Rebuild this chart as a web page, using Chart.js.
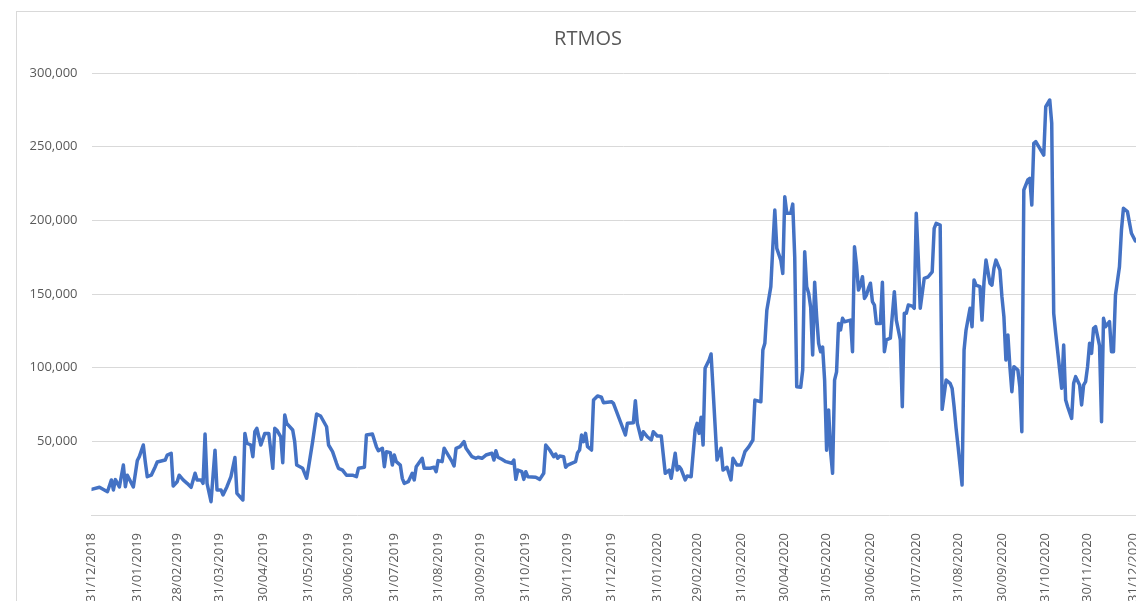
<!DOCTYPE html>
<html><head><meta charset="utf-8">
<script src="https://cdn.jsdelivr.net/npm/chart.js@4/dist/chart.umd.min.js"></script>
<style>
html,body{margin:0;padding:0;background:#fff;overflow:hidden;width:1136px;height:601px;}
#box{position:absolute;left:16px;top:11px;width:1142px;height:593px;border:1px solid #d9d9d9;background:#fff;}
canvas{display:block}
</style></head><body>
<div id="box"><canvas id="c" width="1142" height="593"></canvas></div>
<script>
const chartTitle = 'RTMOS';
const monthEndLabels = ['31/12/2018','31/01/2019','28/02/2019','31/03/2019','30/04/2019','31/05/2019','30/06/2019','31/07/2019','31/08/2019','30/09/2019','31/10/2019','30/11/2019','31/12/2019','31/01/2020','29/02/2020','31/03/2020','30/04/2020','31/05/2020','30/06/2020','31/07/2020','31/08/2020','30/09/2020','31/10/2020','30/11/2020','31/12/2020'];
// trading-session (weekday) number of each month-end label, counted from 31/12/2018
const monthEndSession = [0,23,43,64,86,109,129,152,174,195,218,239,261,284,304,326,348,369,391,414,435,457,479,500,523];
const yTickValues = [50000,100000,150000,200000,250000,300000];
// trading-session number of each reading
const session = [0,4,8,10,11,12,14,16,17,18,21,23,24,26,27,28,30,32,33,37,38,40,41,43,44,46,48,50,52,53,55,56,57,58,60,62,63,65,66,68,70,72,73,76,77,78,80,81,82,83,85,87,89,91,92,93,95,96,97,98,101,102,103,106,108,109,111,113,115,118,119,121,123,124,126,128,131,133,134,137,138,141,143,144,146,147,148,150,151,152,153,155,156,157,159,161,162,163,166,167,170,172,173,174,176,177,178,181,182,183,185,187,188,191,193,194,196,198,201,202,203,204,206,208,211,212,213,214,216,217,218,219,223,225,227,228,230,232,233,234,235,237,238,239,241,243,244,245,246,247,248,249,251,252,254,256,257,261,262,268,269,272,273,274,276,277,279,281,282,284,286,288,290,291,293,294,295,296,298,299,301,303,304,305,306,307,308,310,311,314,316,317,319,321,322,324,326,328,330,332,333,336,337,338,339,340,341,342,343,344,346,347,348,349,351,352,353,354,356,357,358,359,360,361,362,363,364,365,366,367,368,369,370,371,372,373,374,375,376,377,378,381,382,383,384,385,386,387,388,389,390,391,392,393,394,396,397,398,399,401,403,404,406,407,408,409,410,412,413,414,415,416,418,420,422,423,424,426,427,429,431,432,433,434,435,437,438,439,441,442,443,444,446,447,448,449,451,452,453,454,456,457,458,459,460,461,462,463,465,466,467,468,470,471,472,473,474,476,478,479,481,482,483,484,487,488,489,490,492,493,494,496,497,498,499,500,501,502,503,504,506,507,508,509,511,512,513,514,516,517,518,520,522,524];
const rtmos = [17400,18800,15800,23800,17000,24000,19000,33900,19200,27000,19000,37000,39600,47500,36000,26000,27000,32800,36000,37300,40700,41900,19700,22600,27000,23800,21500,18800,28300,23800,23800,21500,55000,21500,9000,44000,17000,17000,13600,19200,26000,39000,14700,10200,55400,48700,47500,39600,56500,58800,47500,55400,55400,31700,58800,57700,53100,35500,67900,62200,57700,49800,33900,31700,24900,32800,49800,68500,67200,59900,47500,43000,35100,31700,30500,27000,27000,26000,31700,32400,54300,55000,46400,43600,45300,32800,43000,42300,33900,40700,36200,33900,24900,21500,22600,28300,23800,32800,38500,31700,31700,32400,29400,36900,36200,45300,43000,36200,33300,45300,46400,49800,45300,39600,38500,39200,38500,40700,41900,37300,43600,39200,37800,36200,35100,37300,24200,30500,29400,24200,29400,26000,25600,24200,28300,47500,44100,39600,41400,38500,40000,39600,32400,33900,35100,36200,42300,44100,54300,49800,55400,46400,44100,78000,80800,79900,76200,76900,75800,54300,62200,62600,77600,62200,51400,56500,53100,50900,56500,53600,53600,28300,30500,24900,41900,30500,32800,31000,23800,26500,26000,57700,62200,55400,66300,47500,99600,105200,109300,37300,45300,30500,32400,23800,38500,33900,33900,43000,46400,50900,78000,76900,112000,116500,139000,147000,155000,182000,207000,181000,173000,164000,216000,204800,204800,211000,175000,87000,86700,98400,178700,155000,150500,141000,108600,158000,134600,116500,110800,114000,91600,44000,71300,43000,28300,91600,97200,130000,125600,133500,131200,132300,110800,182000,169700,152700,156000,161700,147000,149300,153900,157300,144800,142500,130000,130000,158000,110800,118800,120000,151600,132300,118800,73500,136900,136900,142500,141800,140300,204800,175000,140300,160600,161700,165000,194600,198000,196800,71700,91600,89400,86000,73500,58800,46400,20400,112000,125600,140300,127800,159500,156000,155000,132300,158000,173000,157300,156000,167400,173000,166300,148200,134600,105200,122200,100700,83700,100700,98400,87000,56500,220600,227400,228500,210400,252300,253400,248900,244300,277100,281700,265900,136900,123300,86000,115400,78000,73500,65600,89400,93900,88200,74700,88200,90500,100700,116500,109700,126700,127800,115000,63300,133500,127800,131200,110800,110800,149300,168500,193400,208200,205900,191200,186000];

const FONT = 'Open Sans';
const TXT = '#595959';
new Chart(document.getElementById('c').getContext('2d'), {
  type: 'line',
  data: { datasets: [{
    data: session.map((s, i) => ({ x: s, y: rtmos[i] })),
    borderColor: '#4472C4', borderWidth: 3.5, pointRadius: 0, tension: 0,
    borderJoinStyle: 'round', borderCapStyle: 'round', fill: false
  }]},
  options: {
    responsive: false, animation: false, events: [],
    layout: { padding: 0 },
    plugins: {
      legend: { display: false }, tooltip: { enabled: false },
      title: { display: true, text: chartTitle, color: TXT,
        font: { family: FONT, size: 20, weight: 'normal' }, padding: { top: 15, bottom: 22 } }
    },
    scales: {
      x: {
        type: 'linear', min: 0, max: 534,
        grid: { display: false },
        border: { display: true, color: '#d9d9d9', width: 1 },
        afterBuildTicks: s => { s.ticks = monthEndSession.map(v => ({ value: v })); },
        afterFit: s => { s.height = 90; },
        ticks: { autoSkip: false, minRotation: 90, maxRotation: 90, padding: 10, color: TXT,
          font: { family: FONT, size: 13 }, callback: (v, i) => monthEndLabels[i] }
      },
      y: {
        min: 0, max: 300000,
        afterBuildTicks: s => { s.ticks = yTickValues.map(v => ({ value: v })); },
        afterFit: s => { s.width = 74.5; },
        grid: { color: '#d9d9d9', lineWidth: 1, drawTicks: false },
        border: { display: false },
        ticks: { padding: 14, color: TXT, font: { family: FONT, size: 13 },
          callback: v => v.toLocaleString('en-US') }
      }
    }
  }
});
</script>
</body></html>
